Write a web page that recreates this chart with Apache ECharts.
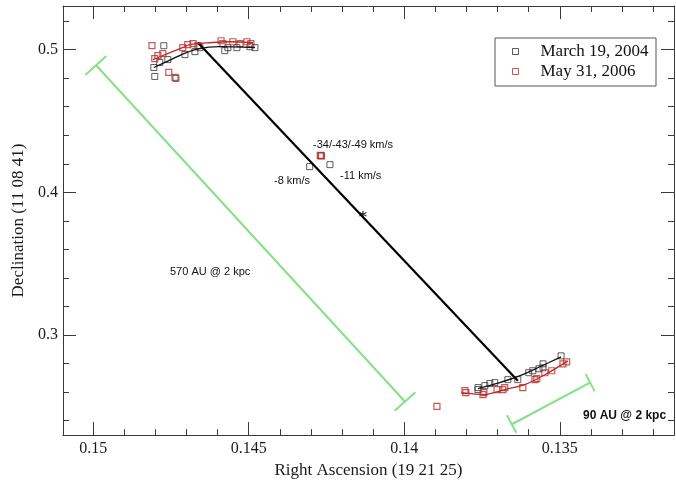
<!DOCTYPE html>
<html>
<head>
<meta charset="utf-8">
<script src="https://cdn.jsdelivr.net/npm/echarts@6/dist/echarts.min.js"></script>
<style>
    html, body { margin: 0; padding: 0; background: #fff; }
    #chart { width: 676px; height: 484px; }
</style>
</head>
<body>
<div id="chart"></div>
<script>
// axis ranges (x runs right to left)
const X_MIN = 0.13133
const X_MAX = 0.15097
const Y_MIN = 0.2299
const Y_MAX = 0.5306

const xMajor = [0.15, 0.145, 0.14, 0.135]
const xMinor = [0.132, 0.133, 0.134, 0.136, 0.137, 0.138, 0.139, 0.141, 0.142, 0.143, 0.144, 0.146, 0.147, 0.148, 0.149]
const yMajor = [0.3, 0.4, 0.5]
const yMinor = [0.24, 0.26, 0.28, 0.32, 0.34, 0.36, 0.38, 0.42, 0.44, 0.46, 0.48, 0.52]

// March 19, 2004 positions
const black2004 = [
    [0.14773, 0.50278], [0.14805, 0.4875], [0.14802, 0.48125], [0.14734, 0.47986],
    [0.14786, 0.49097], [0.1476, 0.49306], [0.14705, 0.49653], [0.14673, 0.49861],
    [0.14657, 0.50139], [0.14577, 0.49931], [0.14567, 0.50139], [0.14538, 0.50139],
    [0.14496, 0.50208], [0.1448, 0.50139],
    [0.14304, 0.41806], [0.14239, 0.41944],
    [0.13763, 0.26319], [0.13763, 0.26181], [0.13741, 0.26458], [0.13725, 0.26597],
    [0.13709, 0.26667], [0.13667, 0.26875], [0.13635, 0.26875], [0.136, 0.27361],
    [0.13587, 0.275], [0.13567, 0.27639], [0.13554, 0.27986], [0.13554, 0.27708],
    [0.13496, 0.28542],
]
// May 31, 2006 positions
const red2006 = [
    [0.14811, 0.50278], [0.14802, 0.49375], [0.14792, 0.49583], [0.14776, 0.49722],
    [0.14757, 0.48403], [0.14737, 0.48056], [0.14712, 0.50139], [0.14696, 0.50347],
    [0.14679, 0.50417], [0.14663, 0.50278], [0.14589, 0.50625], [0.14583, 0.50417],
    [0.14551, 0.50556], [0.14528, 0.50417], [0.14506, 0.50556], [0.14493, 0.50417],
    [0.14268, 0.42569], [0.14266, 0.4255], [0.1427, 0.4259],
    [0.13802, 0.25972], [0.13805, 0.26111], [0.13747, 0.25833], [0.13744, 0.25972],
    [0.13702, 0.26181], [0.13683, 0.26181], [0.13677, 0.26319], [0.13619, 0.26319],
    [0.1358, 0.26875], [0.13574, 0.26944], [0.13548, 0.27361], [0.13526, 0.275],
    [0.1349, 0.27986], [0.13478, 0.28125],
    [0.13895, 0.25],
]

// fitted tracks
const blackFitUp = [[0.14805, 0.4875], [0.14757, 0.49236], [0.14708, 0.49722], [0.1466, 0.50069], [0.14596, 0.50208], [0.1448, 0.50139]]
const redFitUp = [[0.14808, 0.49306], [0.14769, 0.49653], [0.14721, 0.50069], [0.14689, 0.50347], [0.14625, 0.50486], [0.1456, 0.50556], [0.14486, 0.50486]]
const blackFitLow = [[0.13763, 0.2625], [0.13693, 0.26667], [0.13628, 0.27153], [0.13564, 0.27778], [0.13496, 0.28472]]
const redFitLow = [[0.13816, 0.25972], [0.13742, 0.25833], [0.13677, 0.26181], [0.13613, 0.26528], [0.13548, 0.27222], [0.13474, 0.28194]]

// connecting track and its midpoint
const track = [[0.14663, 0.50486], [0.13635, 0.26806]]
const midStar = [[0.14133, 0.38472]]

// green scale bars: [start, end]
const scaleBars = [
    [[0.1499, 0.48889], [0.13998, 0.25347]],
    [[0.15025, 0.48229], [0.14958, 0.49549]],
    [[0.14031, 0.24694], [0.13964, 0.26]],
    [[0.13654, 0.2375], [0.13403, 0.26667]],
    [[0.1367, 0.24375], [0.1364, 0.23153]],
    [[0.13417, 0.27278], [0.13388, 0.26056]],
]

const SERIF = "'Liberation Serif', 'DejaVu Serif', serif"
const SANS = "'Liberation Sans', Arial, sans-serif"
const FRAME = "#3a3a3a"

function makeX(position, ticks, len, withLabels) {
    return {
        type: "value",
        position: position,
        min: X_MIN,
        max: X_MAX,
        inverse: true,
        axisLine: { show: withLabels !== null, onZero: false, lineStyle: { color: FRAME, width: 1 } },
        axisTick: { show: true, inside: true, length: len, customValues: ticks, lineStyle: { color: FRAME, width: 1 } },
        axisLabel: withLabels
            ? { show: true, customValues: xMajor, color: "#1a1a1a", fontFamily: SERIF, fontSize: 16, margin: 6 }
            : { show: false },
        splitLine: { show: false },
        name: withLabels ? "Right Ascension (19 21 25)" : "",
        nameLocation: "middle",
        nameGap: 22,
        nameTextStyle: { color: "#1a1a1a", fontFamily: SERIF, fontSize: 17 },
    }
}

function makeY(position, ticks, len, withLabels) {
    return {
        type: "value",
        position: position,
        min: Y_MIN,
        max: Y_MAX,
        axisLine: { show: withLabels !== null, onZero: false, lineStyle: { color: FRAME, width: 1 } },
        axisTick: { show: true, inside: true, length: len, customValues: ticks, lineStyle: { color: FRAME, width: 1 } },
        axisLabel: withLabels
            ? { show: true, customValues: yMajor, color: "#1a1a1a", fontFamily: SERIF, fontSize: 16, margin: 5 }
            : { show: false },
        splitLine: { show: false },
        name: withLabels ? "Declination (11 08 41)" : "",
        nameLocation: "middle",
        nameGap: 32,
        nameTextStyle: { color: "#1a1a1a", fontFamily: SERIF, fontSize: 17 },
    }
}

function note(text, left, top, size, weight) {
    return {
        type: "text",
        left: left,
        top: top,
        style: { text: text, fill: "#111", font: (weight || "normal") + " " + size + "px " + SANS },
    }
}

const myChart = echarts.init(document.getElementById("chart"))
myChart.setOption({
    animation: false,
    backgroundColor: "#fff",
    grid: { left: 63, right: 2, top: 6, bottom: 45 },
    xAxis: [
        makeX("bottom", xMajor, 13, true),
        makeX("bottom", xMinor, 6, null),
        makeX("top", xMajor, 13, false),
        makeX("top", xMinor, 6, null),
    ],
    yAxis: [
        makeY("left", yMajor, 13, true),
        makeY("left", yMinor, 6, null),
        makeY("right", yMajor, 13, false),
        makeY("right", yMinor, 6, null),
    ],
    legend: {
        data: ["March 19, 2004", "May 31, 2006"],
        orient: "vertical",
        left: 512,
        top: 43,
        padding: 0,
        itemWidth: 6,
        itemHeight: 6,
        itemGap: 3,
        itemStyle: { borderWidth: 1 },
        formatter: name => "    " + name,
        textStyle: { fontFamily: SERIF, fontSize: 17, color: "#111" },
    },
    graphic: [
        {
            type: "rect",
            shape: { x: 495, y: 38, width: 161, height: 48 },
            style: { fill: "none", stroke: "#555", lineWidth: 1 },
            z: 1,
        },
        note("-34/-43/-49 km/s", 313, 139, 11),
        note("-11 km/s", 340, 170, 11),
        note("-8 km/s", 274, 175, 11),
        note("570 AU @ 2 kpc", 170, 266, 11),
        note("90 AU @ 2 kpc", 583, 410, 12, "bold"),
    ],
    series: [
        {
            type: "lines",
            coordinateSystem: "cartesian2d",
            data: scaleBars.map(s => ({ coords: s })),
            lineStyle: { color: "#86e086", width: 2, opacity: 1 },
            silent: true,
        },
        {
            type: "line",
            data: track,
            symbol: "none",
            lineStyle: { color: "#000", width: 2.2 },
        },
        {
            type: "line",
            data: blackFitUp,
            symbol: "none",
            smooth: 0.3,
            lineStyle: { color: "#111", width: 1.3 },
        },
        {
            type: "line",
            data: blackFitLow,
            symbol: "none",
            smooth: 0.3,
            lineStyle: { color: "#111", width: 1.3 },
        },
        {
            type: "line",
            data: redFitUp,
            symbol: "none",
            smooth: 0.3,
            lineStyle: { color: "#c0282a", width: 1.3 },
        },
        {
            type: "line",
            data: redFitLow,
            symbol: "none",
            smooth: 0.3,
            lineStyle: { color: "#c0282a", width: 1.3 },
        },
        {
            name: "March 19, 2004",
            type: "scatter",
            data: black2004,
            symbol: "rect",
            symbolSize: 6,
            symbolKeepAspect: true,
            itemStyle: { color: "rgba(255,255,255,0)", borderColor: "#333", borderWidth: 1 },
        },
        {
            name: "May 31, 2006",
            type: "scatter",
            data: red2006,
            symbol: "rect",
            symbolSize: 6,
            symbolKeepAspect: true,
            itemStyle: { color: "rgba(255,255,255,0)", borderColor: "#b5302f", borderWidth: 1.2 },
        },
        {
            type: "scatter",
            data: midStar,
            symbol: "path://M5 0L5 10M0.7 2.5L9.3 7.5M0.7 7.5L9.3 2.5",
            symbolSize: 7,
            itemStyle: { color: "none", borderColor: "#000", borderWidth: 1.2 },
        },
    ],
})
window.addEventListener("resize", function () {
    myChart.resize()
})
</script>
</body>
</html>
